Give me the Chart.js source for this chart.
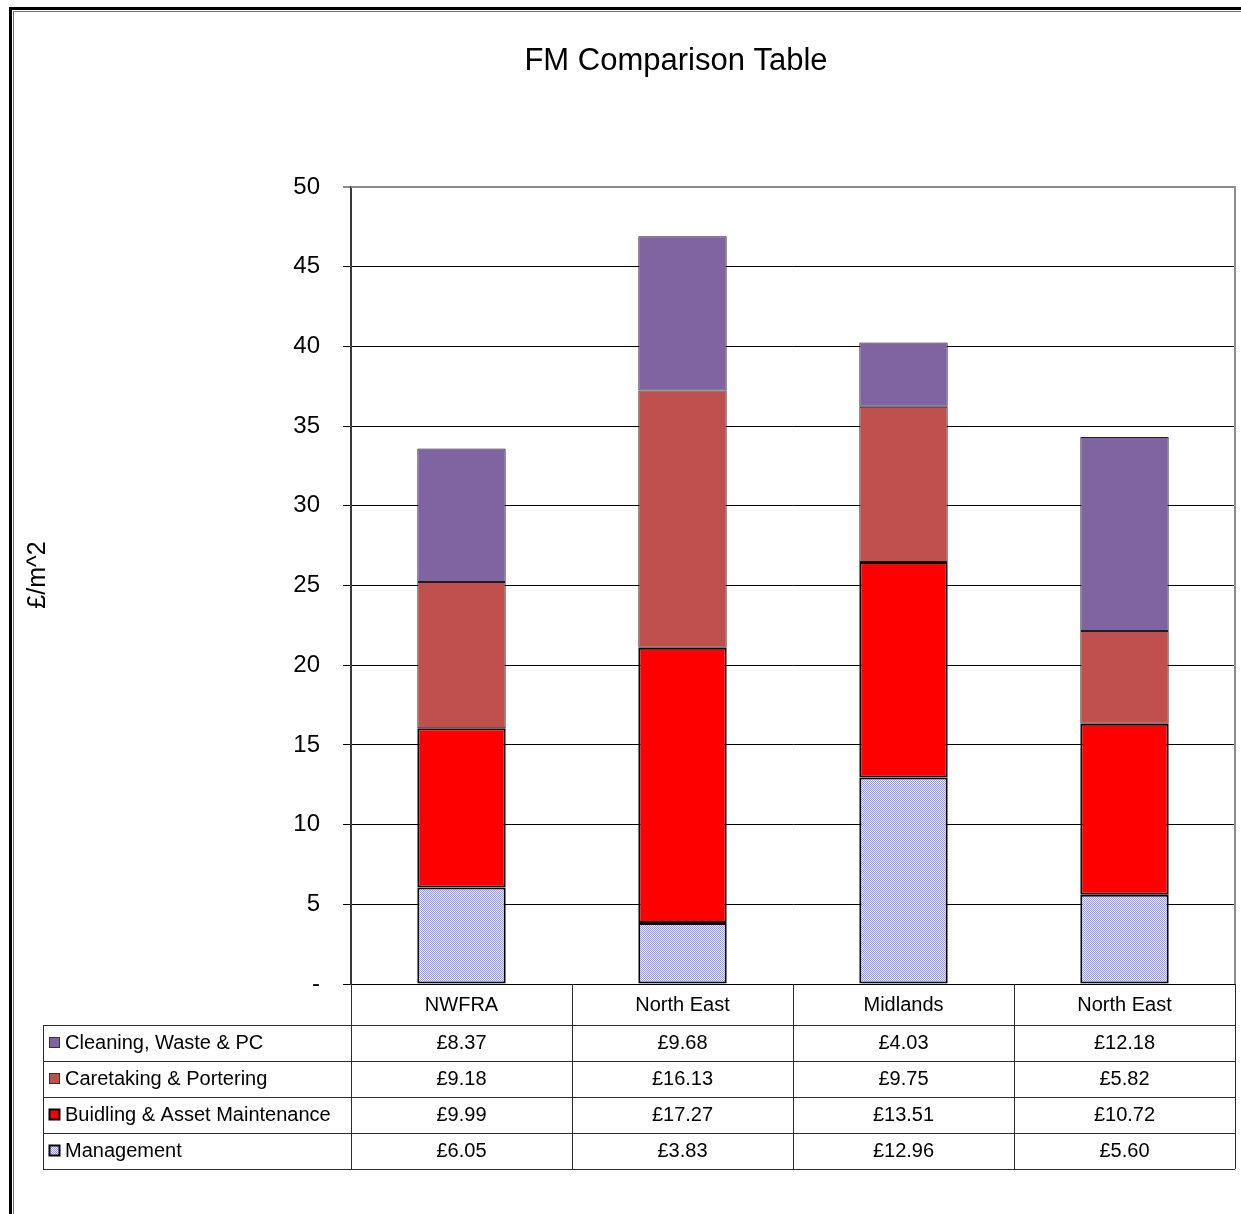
<!DOCTYPE html>
<html>
<head>
<meta charset="utf-8">
<title>FM Comparison Table</title>
<script src="https://cdn.jsdelivr.net/npm/chart.js@4/dist/chart.umd.min.js"></script>
<style>
  html, body { margin: 0; padding: 0; background: #ffffff; }
  #wrap { position: relative; width: 1241px; height: 1214px; }
</style>
</head>
<body>
<div id="wrap"><canvas id="chart" width="1241" height="1214"></canvas></div>
<script>
// Regions compared (x categories)
const categories = ['NWFRA', 'North East', 'Midlands', 'North East'];

// Cost per square metre by service line (£/m^2)
const cleaning   = [8.37, 9.68, 4.03, 12.18];
const caretaking = [9.18, 16.13, 9.75, 5.82];
const building   = [9.99, 17.27, 13.51, 10.72];
const management = [6.05, 3.83, 12.96, 5.60];

const seriesNames = [
  'Cleaning, Waste & PC',
  'Caretaking & Portering',
  'Buidling & Asset Maintenance',
  'Management'
];

const chartTitle = 'FM Comparison Table';
const yAxisTitle = '£/m^2';
const yMin = 0, yMax = 50, yStep = 5;

const FONT = '"Liberation Sans", Arial, Helvetica, sans-serif';

// light dotted fill used for the Management series
function dottedFill() {
  const c = document.createElement('canvas');
  c.width = 4; c.height = 4;
  const g = c.getContext('2d');
  g.fillStyle = '#eeeeff';
  g.fillRect(0, 0, 4, 4);
  g.fillStyle = '#9494ff';
  for (let y = 0; y < 4; y++) {
    for (let x = 0; x < 4; x++) {
      if ((x + y) % 2 === 0) g.fillRect(x, y, 1, 1);
    }
  }
  return g.createPattern(c, 'repeat');
}

const ctx = document.getElementById('chart').getContext('2d');
const mgmtFill = dottedFill();

// stacked from the bottom up; the table lists them top-down
const datasets = [
  { label: seriesNames[3], data: management, backgroundColor: mgmtFill,  borderColor: '#000000', borderWidth: 2 },
  { label: seriesNames[2], data: building,   backgroundColor: '#ff0000', borderColor: '#000000', borderWidth: 2 },
  { label: seriesNames[1], data: caretaking, backgroundColor: '#c0504d', borderColor: '#1e1e1e', borderWidth: 1 },
  { label: seriesNames[0], data: cleaning,   backgroundColor: '#8064a2', borderColor: '#1e1e1e', borderWidth: 1 }
];

// outer frame, chart title, axis title, plot border and data table
const tablePlugin = {
  id: 'dataTable',
  beforeDatasetsDraw(chart) {
    const { ctx, chartArea: a } = chart;
    ctx.save();
    ctx.strokeStyle = '#8c8c8c';
    ctx.lineWidth = 2;
    ctx.beginPath();
    ctx.moveTo(a.left, a.top);
    ctx.lineTo(a.right, a.top);
    ctx.lineTo(a.right, a.bottom);
    ctx.stroke();
    ctx.restore();
  },
  afterDraw(chart) {
    const { ctx, chartArea: a, scales } = chart;
    const xs = scales.x;
    const n = categories.length;
    const colW = (a.right - a.left) / n;
    const rowH = 36;
    const headTop = a.bottom;
    const bodyTop = 1025;
    const tableLeft = 43;
    const rows = [
      { name: seriesNames[0], data: cleaning,   fill: '#8064a2', edge: '#333333' },
      { name: seriesNames[1], data: caretaking, fill: '#c0504d', edge: '#333333' },
      { name: seriesNames[2], data: building,   fill: '#ff0000', edge: '#000000' },
      { name: seriesNames[3], data: management, fill: mgmtFill,  edge: '#000000' }
    ];
    const bodyBottom = bodyTop + rows.length * rowH;

    ctx.save();
    // frame round the whole chart
    ctx.fillStyle = '#000000';
    ctx.fillRect(9, 7, chart.width - 9, 3);
    ctx.fillRect(9, 7, 3, chart.height - 7);
    ctx.fillStyle = '#6e6e6e';
    ctx.fillRect(13, 11, 1, chart.height - 11);
    ctx.fillRect(13, 11, chart.width - 13, 1);

    // title
    ctx.fillStyle = '#000000';
    ctx.font = '31px ' + FONT;
    ctx.textAlign = 'center';
    ctx.textBaseline = 'middle';
    ctx.fillText(chartTitle, 676, 61);

    // value axis title, rotated
    ctx.save();
    ctx.translate(38, 575);
    ctx.rotate(-Math.PI / 2);
    ctx.font = '25px ' + FONT;
    ctx.fillText(yAxisTitle, 0, 0);
    ctx.restore();

    // table grid
    ctx.strokeStyle = '#2b2b2b';
    ctx.lineWidth = 1;
    ctx.beginPath();
    for (let i = 0; i <= n; i++) {
      const x = Math.round(a.left + i * colW) + 0.5;
      ctx.moveTo(x, headTop);
      ctx.lineTo(x, bodyBottom);
    }
    ctx.moveTo(tableLeft + 0.5, bodyTop);
    ctx.lineTo(tableLeft + 0.5, bodyBottom);
    for (let r = 0; r <= rows.length; r++) {
      const y = bodyTop + r * rowH + 0.5;
      ctx.moveTo(tableLeft, y);
      ctx.lineTo(a.right, y);
    }
    ctx.stroke();

    // table rows: key, series name, values
    ctx.font = '20px ' + FONT;
    rows.forEach((row, r) => {
      const cy = bodyTop + r * rowH + rowH / 2;
      ctx.fillStyle = row.fill;
      ctx.fillRect(49, cy - 6, 11, 11);
      ctx.strokeStyle = row.edge;
      ctx.lineWidth = (r >= 2) ? 2 : 1;
      ctx.strokeRect(49.5, cy - 5.5, 10, 10);
      ctx.fillStyle = '#000000';
      ctx.textAlign = 'left';
      ctx.fillText(row.name, 65, cy, a.left - 65 - 4);
      ctx.textAlign = 'center';
      row.data.forEach((v, i) => {
        ctx.fillText('£' + v.toFixed(2), xs.getPixelForValue(i), cy);
      });
    });
    ctx.restore();
  }
};

new Chart(ctx, {
  type: 'bar',
  data: { labels: categories, datasets: datasets },
  plugins: [tablePlugin],
  options: {
    responsive: false,
    animation: false,
    devicePixelRatio: 1,
    layout: { padding: { top: 187, right: 6, bottom: 0, left: 0 } },
    plugins: {
      legend: { display: false },
      title: { display: false },
      tooltip: { enabled: false }
    },
    datasets: {
      bar: { categoryPercentage: 1.0, barPercentage: 0.4, borderSkipped: false }
    },
    scales: {
      x: {
        stacked: true,
        grid: { display: false, drawTicks: false },
        border: { display: true, color: '#000000', width: 1 },
        ticks: { color: '#000000', font: { family: FONT, size: 20 }, padding: 9, maxRotation: 0 },
        afterFit(scale) { scale.height = 1214 - 984; }
      },
      y: {
        stacked: true,
        min: yMin,
        max: yMax,
        grid: {
          color: (c) => (c.tick && c.tick.value === yMax) ? '#8c8c8c' : '#000000',
          lineWidth: (c) => (c.tick && c.tick.value === yMax) ? 2 : 1,
          tickLength: 8
        },
        border: { display: true, color: '#3a3a3a', width: 2 },
        ticks: {
          stepSize: yStep,
          color: '#000000',
          font: { family: FONT, size: 24 },
          padding: 23,
          callback: (v) => v === 0 ? '-' : v
        },
        afterFit(scale) { scale.width = 351; }
      }
    }
  }
});
</script>
</body>
</html>
